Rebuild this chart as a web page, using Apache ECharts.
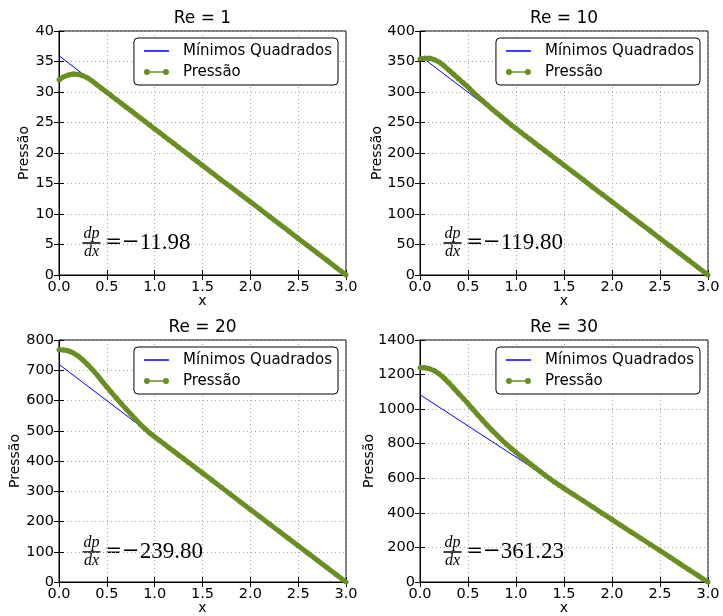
<!DOCTYPE html>
<html>
<head>
<meta charset="utf-8">
<script src="https://cdn.jsdelivr.net/npm/echarts@6/dist/echarts.min.js"></script>
<style>
  html, body { margin: 0; padding: 0; background: #fff; }
  #chart { width: 723px; height: 616px; }
</style>
</head>
<body>
<div id="chart"></div>
<script>
// Pressure along the channel for four Reynolds numbers, with the least-squares fit.
const xs = [0, 0.05, 0.1, 0.15, 0.2, 0.25, 0.3, 0.35, 0.4, 0.45, 0.5, 0.55, 0.6, 0.65, 0.7, 0.75,
  0.8, 0.85, 0.9, 0.95, 1.0, 1.05, 1.1, 1.15, 1.2, 1.25, 1.3, 1.35, 1.4, 1.45, 1.5,
  1.6, 1.7, 1.8, 1.9, 2.0, 2.1, 2.2, 2.3, 2.4, 2.5, 2.6, 2.7, 2.8, 2.9, 3.0];

const pressaoRe1 = [32.0, 32.5, 32.8, 32.95, 32.9, 32.65, 32.3, 31.75, 31.15, 30.55, 29.95, 29.35,
  28.75, 28.15, 27.55, 26.95, 26.35, 25.75, 25.15, 24.55, 23.95, 23.35, 22.75, 22.15, 21.55,
  20.95, 20.35, 19.75, 19.15, 18.55, 17.95, 16.75, 15.55, 14.4, 13.2, 12.0, 10.8, 9.6, 8.4,
  7.2, 6.0, 4.8, 3.6, 2.4, 1.2, 0];
const pressaoRe10 = [354, 355.5, 355.5, 353, 349, 343, 336, 329, 322, 315, 308, 300, 293, 286,
  279, 272, 265.5, 259, 252.5, 246, 240, 234, 228, 222, 216, 210, 204, 198, 192, 186, 180, 168,
  156, 144, 132, 120, 108, 96, 84, 72, 60, 48, 36, 24, 12, 0];
const pressaoRe20 = [768, 767, 764, 757, 747, 734, 718, 702, 684, 664, 645, 626, 608, 590, 572,
  555, 538, 521, 506, 492, 480, 468, 456, 444, 432, 420, 408, 396, 384, 372, 360, 336, 312,
  288, 264, 240, 216, 192, 168, 144, 120, 96, 72, 48, 24, 0];
const pressaoRe30 = [1240, 1239, 1234, 1222, 1204, 1180, 1152, 1122, 1092, 1062, 1032, 1000, 968,
  937, 907, 878, 850, 823, 797, 773, 750, 727, 705, 683, 661, 640, 619, 599, 579, 560, 542,
  506, 470, 434, 397, 361, 325, 289, 253, 217, 181, 145, 108, 72, 36, 0];

const reynolds = [1, 10, 20, 30];
const pressures = [pressaoRe1, pressaoRe10, pressaoRe20, pressaoRe30];
// least-squares fit: slope dp/dx and intercept at x = 0
const fitSlopes = [-11.98, -119.80, -239.80, -361.23];
const fitIntercepts = [35.94, 359.40, 719.40, 1083.69];
const fitRange = [0, 3];
const yMaxes = [40, 400, 800, 1400];
const yIntervals = [5, 50, 100, 200];
const xMin = 0, xMax = 3, xInterval = 0.5;

const FONT = 'DejaVu Sans';
const GREEN = '#6b8e23';
const BLUE = '#0000ff';

const boxes = [
  { left: 59, top: 31, width: 287, height: 244 },
  { left: 420, top: 31, width: 288, height: 244 },
  { left: 59, top: 340, width: 287, height: 244 },
  { left: 420, top: 340, width: 288, height: 244 }
];
// distance of the y-axis title from its axis (wider tick labels push it out)
const yNameGaps = [28, 36, 37, 44];

const markerIcon = 'path://M0,3 A3,3 0 1 1 6,3 A3,3 0 1 1 0,3 Z M19,3 A3,3 0 1 1 25,3 A3,3 0 1 1 19,3 Z M3,2.2 L22,2.2 L22,3.8 L3,3.8 Z';
const lineIcon = 'path://M0,0 L0.01,0 L0.01,0.01 Z M0,2.25 L25,2.25 L25,3.75 L0,3.75 Z M24.99,6 L25,6 L25,5.99 Z';

const grid = [], xAxis = [], yAxis = [], series = [], legend = [], graphic = [];

boxes.forEach((b, i) => {
  grid.push({ left: b.left, top: b.top, width: b.width, height: b.height,
    show: true, borderColor: '#000', borderWidth: 1, backgroundColor: 'transparent' });

  const tick = { show: true, inside: true, length: 5, lineStyle: { color: '#000', width: 1 } };
  const split = { show: true, lineStyle: { color: '#a8a8a8', width: 1, type: [1, 3] } };
  // bottom / left axes with labels and grid
  xAxis.push({
    type: 'value', gridIndex: i, min: xMin, max: xMax, interval: xInterval,
    name: 'x', nameLocation: 'middle', nameGap: 19, nameMoveOverlap: false,
    nameTextStyle: { fontFamily: FONT, fontSize: 14, color: '#000' },
    axisLine: { show: true, lineStyle: { color: '#000', width: 1 } },
    axisTick: tick,
    axisLabel: { fontFamily: FONT, fontSize: 14.5, color: '#000', margin: 5,
      formatter: v => v.toFixed(1) },
    splitLine: split
  });
  yAxis.push({
    type: 'value', gridIndex: i, min: 0, max: yMaxes[i], interval: yIntervals[i],
    name: 'Pressão', nameLocation: 'middle', nameRotate: 90, nameGap: yNameGaps[i],
    nameMoveOverlap: false,
    nameTextStyle: { fontFamily: FONT, fontSize: 14, color: '#000' },
    axisLine: { show: true, lineStyle: { color: '#000', width: 1 } },
    axisTick: tick,
    axisLabel: { fontFamily: FONT, fontSize: 14.5, color: '#000', margin: 5,
      formatter: v => String(v) },
    splitLine: split
  });
  // top / right axes carry only inward ticks
  xAxis.push({
    type: 'value', gridIndex: i, position: 'top', min: xMin, max: xMax, interval: xInterval,
    axisLine: { show: false }, axisTick: tick, axisLabel: { show: false }, splitLine: { show: false }
  });
  yAxis.push({
    type: 'value', gridIndex: i, position: 'right', min: 0, max: yMaxes[i], interval: yIntervals[i],
    axisLine: { show: false }, axisTick: tick, axisLabel: { show: false }, splitLine: { show: false }
  });

  const fitLine = fitRange.map(x => [x, fitIntercepts[i] + fitSlopes[i] * x]);
  series.push({
    type: 'line', name: 'Mínimos Quadrados', xAxisIndex: 2 * i, yAxisIndex: 2 * i,
    data: fitLine, symbol: 'none', silent: true, animation: false,
    lineStyle: { color: BLUE, width: 1 }, itemStyle: { color: BLUE }, z: 2
  });
  series.push({
    type: 'line', name: 'Pressão', xAxisIndex: 2 * i, yAxisIndex: 2 * i,
    data: xs.map((x, k) => [x, pressures[i][k]]),
    symbol: 'circle', symbolSize: 5, showSymbol: true, silent: true, animation: false,
    lineStyle: { color: GREEN, width: 5 }, itemStyle: { color: GREEN }, z: 3
  });

  legend.push({
    right: 723 - (b.left + b.width - 8), top: b.top + 7,
    orient: 'vertical', itemWidth: 25, itemHeight: 6, itemGap: 5,
    padding: [5, 6, 5, 10],
    backgroundColor: '#fff', borderColor: '#000', borderWidth: 1, borderRadius: 4,
    selectedMode: false, z: 10,
    itemStyle: { borderWidth: 0 },
    textStyle: { fontFamily: FONT, fontSize: 15, color: '#000', lineHeight: 16, padding: [0, 0, 0, 9] },
    data: [
      { name: 'Mínimos Quadrados', icon: lineIcon },
      { name: 'Pressão', icon: markerIcon }
    ]
  });

  // panel title
  graphic.push({
    type: 'text', x: b.left + b.width / 2, y: b.top - 12,
    style: { text: 'Re = ' + reynolds[i], fontFamily: FONT, fontSize: 17, fill: '#000',
      align: 'center', verticalAlign: 'middle' }
  });

  // slope annotation dp/dx = value
  const fx = b.left + 23.5, fy = b.top + b.height - 32;
  graphic.push({
    type: 'text', x: fx + 9, y: fy - 9,
    style: { text: 'dp', fontFamily: 'Liberation Serif', fontStyle: 'italic', fontSize: 16,
      fill: '#000', align: 'center', verticalAlign: 'middle' }
  });
  graphic.push({
    type: 'rect', shape: { x: fx, y: fy - 0.75, width: 18, height: 1.5 }, style: { fill: '#000' }
  });
  graphic.push({
    type: 'text', x: fx + 9, y: fy + 9,
    style: { text: 'dx', fontFamily: 'Liberation Serif', fontStyle: 'italic', fontSize: 16,
      fill: '#000', align: 'center', verticalAlign: 'middle' }
  });
  const val = fitSlopes[i];
  graphic.push({
    type: 'text', x: fx + 22, y: fy,
    style: {
      text: '{op|=\u2212}{num|' + Math.abs(val).toFixed(2) + '}',
      align: 'left', verticalAlign: 'middle', fill: '#000',
      rich: {
        op: { fontFamily: 'DejaVu Serif', fontSize: 21, fill: '#000' },
        num: { fontFamily: 'Liberation Serif', fontSize: 23, fill: '#000' }
      }
    }
  });
});

const chart = echarts.init(document.getElementById('chart'), null, { renderer: 'canvas' });
chart.setOption({
  animation: false,
  backgroundColor: '#fff',
  grid, xAxis, yAxis, series, legend, graphic
});
</script>
</body>
</html>
